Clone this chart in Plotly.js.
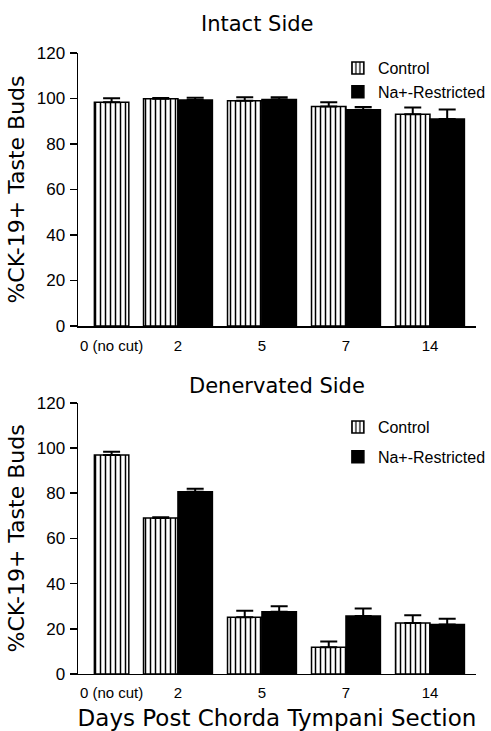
<!DOCTYPE html>
<html>
<head>
<meta charset="utf-8">
<script src="https://cdn.plot.ly/plotly-3.0.1.min.js"></script>
<style>html,body{margin:0;padding:0;background:#fff;}#chart{width:491px;height:731px;}</style>
</head>
<body>
<div id="chart"></div>
<script>
// ---- data ----
const categories = ['0 (no cut)', '2', '5', '7', '14'];
const seriesNames = ['Control', 'Na+-Restricted'];
const intactControl    = [98.3, 99.9, 99.0, 96.5, 93.1];
const intactControlErr = [1.8, 0.3, 1.5, 1.8, 2.9];
const intactNa         = [null, 99.3, 99.6, 95.1, 91.0];
const intactNaErr      = [null, 1.0, 1.0, 1.2, 4.2];
const denervControl    = [96.9, 69.0, 25.1, 11.8, 22.6];
const denervControlErr = [1.4, 0.3, 2.9, 2.6, 3.4];
const denervNa         = [null, 80.6, 27.5, 25.6, 21.9];
const denervNaErr      = [null, 1.4, 2.5, 3.4, 2.5];

// ---- layout constants ----
const catPos = [0.21, 1, 2, 3, 4];
const barW = 0.41;
const TITLE_FONT = 'DejaVu Sans';
const TICK_FONT = 'Liberation Sans';

function errBar(arr) {
  return {type: 'data', array: arr, arrayminus: arr.map(() => 0), symmetric: false,
          visible: true, color: '#000', thickness: 2, width: 8.5};
}
function controlOffsets(naVals) {
  return naVals.map(v => (v === null ? -barW / 2 : -barW));
}
function makeTraces(ctrl, ctrlErr, na, naErr, xa, ya, legendId) {
  return [
    {type: 'bar', name: seriesNames[0], x: catPos, y: ctrl, xaxis: xa, yaxis: ya,
     width: barW, offset: controlOffsets(na), legend: legendId, legendgroup: legendId + 'c',
     marker: {color: '#fff', line: {color: '#000', width: 1.5},
              pattern: {shape: '|', fgcolor: '#000', bgcolor: '#fff', size: 5, solidity: 0.3}},
     error_y: errBar(ctrlErr), hoverinfo: 'skip'},
    {type: 'bar', name: seriesNames[1], x: catPos, y: na, xaxis: xa, yaxis: ya,
     width: barW, offset: 0, legend: legendId, legendgroup: legendId + 'n',
     marker: {color: '#000', line: {color: '#000', width: 1.5}},
     error_y: errBar(naErr), hoverinfo: 'skip'}
  ];
}

const traces = [].concat(
  makeTraces(intactControl, intactControlErr, intactNa, intactNaErr, 'x', 'y', 'legend'),
  makeTraces(denervControl, denervControlErr, denervNa, denervNaErr, 'x2', 'y2', 'legend2')
);

const xCommon = {
  range: [-0.19, 4.548], showline: true, linecolor: '#000', linewidth: 1.5,
  showgrid: false, zeroline: false, ticks: '', tickmode: 'array',
  tickvals: catPos, ticktext: categories, ticklabelstandoff: 5,
  tickfont: {family: TICK_FONT, size: 15, color: '#000'}, fixedrange: true
};
const yCommon = {
  range: [0, 120], tickmode: 'linear', tick0: 0, dtick: 20, showline: true,
  linecolor: '#000', linewidth: 1.5, ticks: 'outside', ticklen: 7, tickwidth: 1.5,
  tickcolor: '#000', showgrid: false, zeroline: false, ticklabelstandoff: 1,
  tickfont: {family: TICK_FONT, size: 17, color: '#000'}, fixedrange: true,
  title: {text: '%CK-19+ Taste Buds', font: {family: TITLE_FONT, size: 22, color: '#000'}, standoff: 6}
};

const layout = {
  width: 491, height: 731,
  margin: {l: 78, r: 15, t: 0, b: 0},
  paper_bgcolor: '#fff', plot_bgcolor: 'rgba(0,0,0,0)',
  barmode: 'overlay',
  showlegend: true,
  xaxis: Object.assign({}, xCommon, {domain: [0, 1], anchor: 'y'}),
  yaxis: Object.assign({}, yCommon, {domain: [0.554, 0.9275], anchor: 'x'}),
  xaxis2: Object.assign({}, xCommon, {domain: [0, 1], anchor: 'y2',
    title: {text: 'Days Post Chorda Tympani Section', font: {family: TITLE_FONT, size: 23, color: '#000'}, standoff: 10}}),
  yaxis2: Object.assign({}, yCommon, {domain: [0.078, 0.449], anchor: 'x2'}),
  legend: {x: 0.653, xanchor: 'left', y: 0.93, yanchor: 'top', bgcolor: 'rgba(0,0,0,0)',
           font: {family: TICK_FONT, size: 16, color: '#000'}, traceorder: 'grouped', tracegroupgap: 0},
  legend2: {x: 0.653, xanchor: 'left', y: 0.439, yanchor: 'top', bgcolor: 'rgba(0,0,0,0)',
           font: {family: TICK_FONT, size: 16, color: '#000'}, traceorder: 'grouped', tracegroupgap: 6},
  annotations: [
    {text: 'Intact Side', xref: 'paper', yref: 'paper', x: 0.4497, y: 0.967, xanchor: 'center', yanchor: 'middle',
     showarrow: false, font: {family: TITLE_FONT, size: 21, color: '#000'}},
    {text: 'Denervated Side', xref: 'paper', yref: 'paper', x: 0.5003, y: 0.472, xanchor: 'center', yanchor: 'middle',
     showarrow: false, font: {family: TITLE_FONT, size: 21, color: '#000'}}
  ]
};

Plotly.newPlot('chart', traces, layout, {displayModeBar: false, staticPlot: true});
</script>
</body>
</html>
